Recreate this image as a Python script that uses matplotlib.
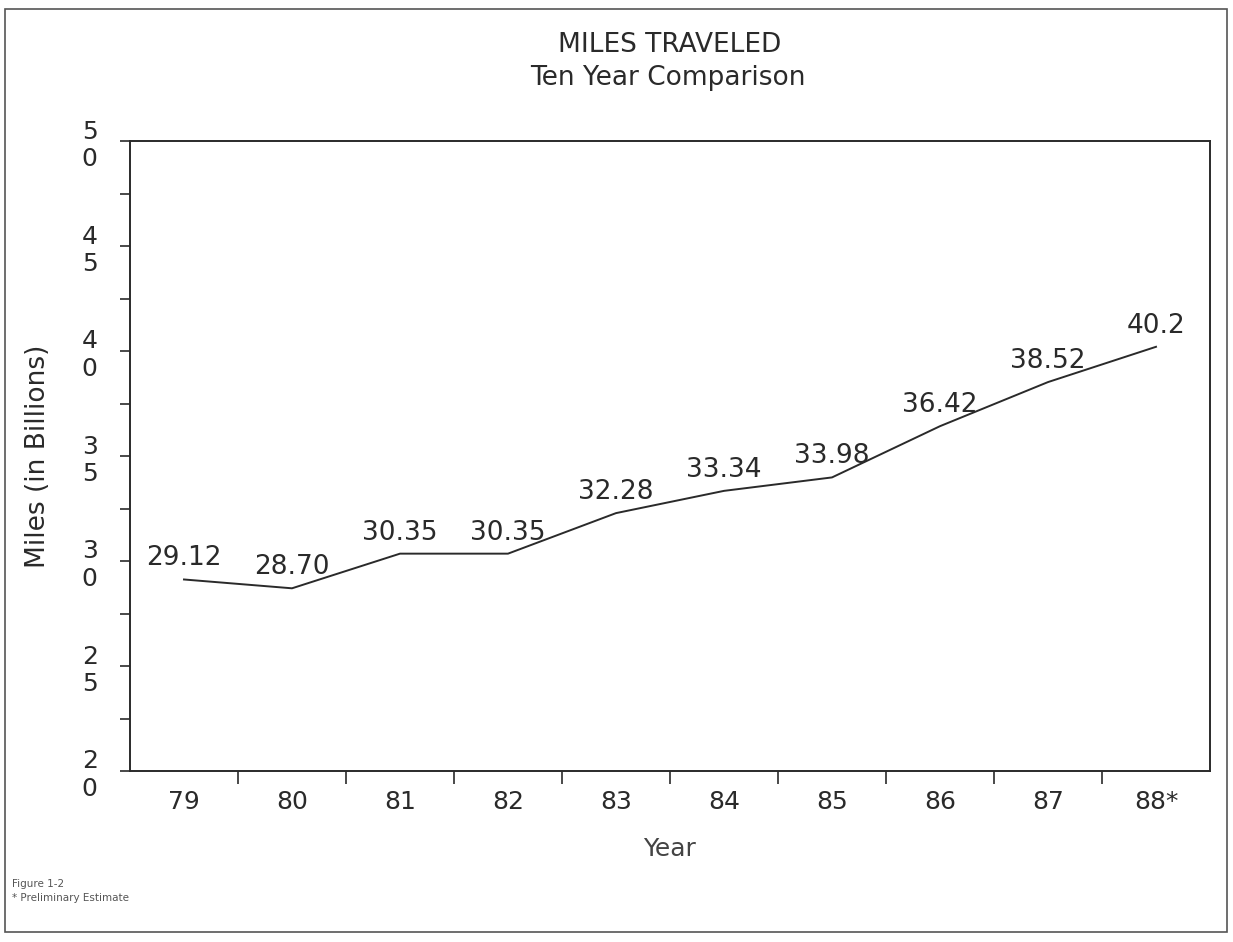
import matplotlib

matplotlib.use("Agg")
import matplotlib.pyplot as plt
from matplotlib.patches import Rectangle

years = ["79", "80", "81", "82", "83", "84", "85", "86", "87", "88*"]
miles = [29.12, 28.70, 30.35, 30.35, 32.28, 33.34, 33.98, 36.42, 38.52, 40.2]
value_labels = ["29.12", "28.70", "30.35", "30.35", "32.28", "33.34", "33.98", "36.42", "38.52", "40.2"]
y_major = [20, 25, 30, 35, 40, 45, 50]
y_minor = [22.5, 27.5, 32.5, 37.5, 42.5, 47.5]

INK = "#2a2a2a"
plt.rcParams["font.family"] = ["DejaVu Sans"]

fig = plt.figure(figsize=(12.33, 9.42), dpi=100)
ax = fig.add_axes([130 / 1233, 1 - 771 / 942, 1080 / 1233, 630 / 942])

x = list(range(len(years)))
ax.plot(x, miles, color=INK, lw=1.4)
for xi, yi, lab in zip(x, miles, value_labels):
    ax.annotate(lab, (xi, yi), xytext=(0, 21), textcoords="offset pixels",
                ha="center", va="center", fontsize=19, color=INK)

ax.set_xlim(-0.5, 9.5)
ax.set_ylim(20, 50)

# x ticks sit on the category boundaries, labels in the middle
ax.set_xticks([i + 0.5 for i in range(9)])
ax.set_xticklabels([])
ax.set_xticks(x, minor=True)
ax.set_xticklabels(years, minor=True, fontsize=18, color=INK)
ax.tick_params(axis="x", which="major", direction="out", length=9, width=1.2, color=INK)
ax.tick_params(axis="x", which="minor", length=0, pad=14)

ax.set_yticks(y_major)
ax.set_yticklabels(["\n".join(str(v)) for v in y_major], fontsize=18, color=INK, ha="center")
ax.set_yticks(y_minor, minor=True)
ax.tick_params(axis="y", which="both", direction="out", length=7, width=1.2, color=INK, pad=22)

for sp in ax.spines.values():
    sp.set_color(INK)
    sp.set_linewidth(1.4)

ax.set_xlabel("Year", fontsize=18, color="#444444", labelpad=16)
ax.yaxis.set_label_coords(-79 / 1080, 0.5)
ax.set_ylabel("Miles (in Billions)", fontsize=19, color=INK)

fig.text(670 / 1233, 1 - 45 / 942, "MILES TRAVELED", ha="center", va="center", fontsize=19, color=INK)
fig.text(668 / 1233, 1 - 78 / 942, "Ten Year Comparison", ha="center", va="center", fontsize=19, color=INK)

fig.text(12 / 1233, 1 - 884 / 942, "Figure 1-2", ha="left", va="center", fontsize=7.5, color="#555555")
fig.text(12 / 1233, 1 - 898 / 942, "* Preliminary Estimate", ha="left", va="center", fontsize=7.5, color="#555555")

# outer frame of the scanned page
fig.patches.append(Rectangle((5 / 1233, 1 - 932 / 942), 1222 / 1233, 923 / 942,
                             transform=fig.transFigure, fill=False, lw=1.2, ec="#555555"))

fig.savefig("out.png", dpi=100)
